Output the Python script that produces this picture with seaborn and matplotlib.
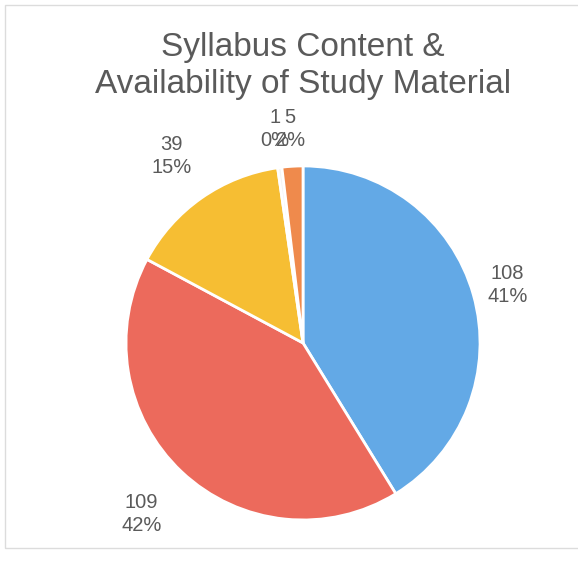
import numpy as np
import matplotlib
matplotlib.use("Agg")
import matplotlib.pyplot as plt
import seaborn as sns

# Data
counts = [108, 109, 39, 1, 5]
colors = ["#63a9e6", "#ec6a5c", "#f6be33", "#f4f4f4", "#ef8a4c"]
# label distance (in pie radii) per slice, tuned to match the reference layout
label_dist = [1.20, 1.33, 1.29, 1.22, 1.21]

sns.set_style("white")
plt.rcParams["font.family"] = ["Liberation Sans", "DejaVu Sans"]
text_color = "#5a5a5a"

fig = plt.figure(figsize=(5.78, 5.75), dpi=100)
ax = fig.add_axes([0.218, 0.0957, 0.6125, 0.6157])

wedges, _ = ax.pie(counts, colors=colors, startangle=90, counterclock=False,
                   radius=1.0, wedgeprops=dict(edgecolor="white", linewidth=2))
ax.set_xlim(-1, 1)
ax.set_ylim(-1, 1)
ax.set_aspect("equal")
ax.axis("off")

total = sum(counts)
for w, c, d in zip(wedges, counts, label_dist):
    mid = np.deg2rad((w.theta1 + w.theta2) / 2)
    pct = round(100 * c / total)
    ax.text(d * np.cos(mid), d * np.sin(mid), f"{c}\n{pct}%", ha="center", va="center",
            fontsize=14.5, color=text_color, linespacing=1.25, clip_on=False)

fig.text(0.524, 0.885, "Syllabus Content &\nAvailability of Study Material",
         ha="center", va="center", fontsize=24, color=text_color, linespacing=1.22)

# faint scan frame
frame = plt.Rectangle((0.008, 0.047), 1.0, 0.945, transform=fig.transFigure,
                      fill=False, edgecolor="#dcdcdc", linewidth=1)
fig.patches.append(frame)

fig.savefig("out.png", dpi=100)
